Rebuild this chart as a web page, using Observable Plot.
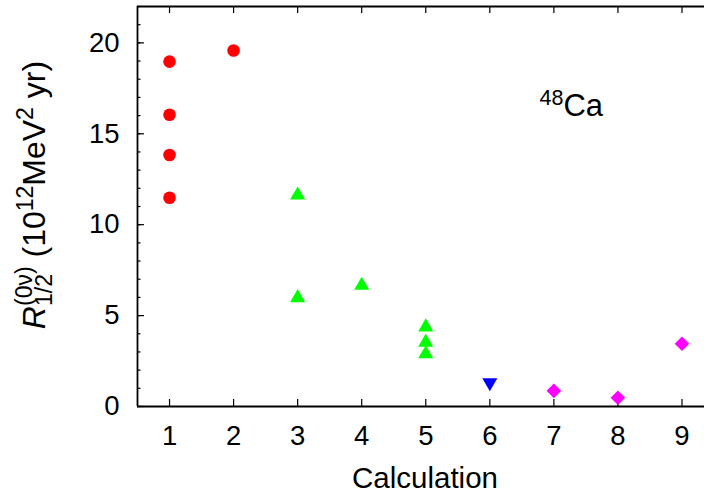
<!DOCTYPE html>
<html><head><meta charset="utf-8">
<script src="https://cdn.jsdelivr.net/npm/d3@7"></script>
<script src="https://cdn.jsdelivr.net/npm/@observablehq/plot@0.6"></script>
<style>
body{margin:0;background:#fff}
#chart svg{display:block}
</style>
</head><body><div id="chart"></div>
<script>
// Data
const circleCalc = [1, 1, 1, 1, 2];
const circleR = [18.97, 16.05, 13.83, 11.48, 19.58];
const triCalc = [3, 3, 4, 5, 5, 5];
const triR = [11.62, 5.98, 6.66, 4.37, 3.53, 2.89];
const invCalc = [6];
const invR = [1.32];
const diaCalc = [7, 8, 9];
const diaR = [0.86, 0.48, 3.45];
const xTicks = [1, 2, 3, 4, 5, 6, 7, 8, 9];
const yMajor = [0, 5, 10, 15, 20];
const yMinor = d3.range(0, 23);

const toRows = (xs, ys) => xs.map((x, i) => ({calc: x, r: ys[i]}));
const circles = toRows(circleCalc, circleR);
const tris = toRows(triCalc, triR);
const invs = toRows(invCalc, invR);
const dias = toRows(diaCalc, diaR);

const triangleDown = {
  draw(context, size) {
    const y = Math.sqrt(size / (Math.sqrt(3) * 3));
    context.moveTo(0, 2 * y);
    context.lineTo(Math.sqrt(3) * y, -y);
    context.lineTo(-Math.sqrt(3) * y, -y);
    context.closePath();
  }
};

const FONT = "'Liberation Sans', Arial, Helvetica, sans-serif";
const W = 704, H = 493, ML = 137, MT = 6, MB = 87, MR = 0;
const frameW = W - ML - MR, frameH = H - MT - MB;
const tk = {stroke: "#000", strokeWidth: 1.2};

const plot = Plot.plot({
  width: W, height: H,
  marginLeft: ML, marginTop: MT, marginBottom: MB, marginRight: MR,
  style: {fontFamily: FONT, background: "#fff", color: "#000", overflow: "visible"},
  x: {domain: [0.5, 9.5], range: [ML, ML + 9 * 64.06]},
  y: {domain: [0, 22]},
  marks: [
    // inward ticks: left edge (minor + major), bottom and top edges
    Plot.tickY(yMinor, {y: d => d, insetRight: frameW - 3.5, ...tk}),
    Plot.tickY(yMajor, {y: d => d, insetRight: frameW - 7, ...tk}),
    Plot.tickX(xTicks, {x: d => d, insetTop: frameH - 7, ...tk}),
    Plot.tickX(xTicks, {x: d => d, insetBottom: frameH - 7, ...tk}),
    // tick labels
    Plot.axisY({ticks: yMajor, tickSize: 0, tickPadding: 18, fontSize: 27.5, label: null, stroke: "none", tickFormat: d3.format("d")}),
    Plot.axisX({ticks: xTicks, tickSize: 0, tickPadding: 19, fontSize: 27.5, label: null, stroke: "none", tickFormat: d3.format("d")}),
    // frame (right side lies outside the picture)
    Plot.ruleY([0, 22], {stroke: "#000", strokeWidth: 1.8}),
    Plot.ruleX([0.5], {stroke: "#000", strokeWidth: 1.8}),
    // data
    Plot.dot(circles, {x: "calc", y: "r", r: 6.3, fill: "#ff0000", symbol: "circle"}),
    Plot.dot(tris, {x: "calc", y: "r", r: 5.6, fill: "#00ff00", symbol: "triangle"}),
    Plot.dot(invs, {x: "calc", y: "r", r: 5.6, fill: "#0000ff", symbol: triangleDown}),
    Plot.dot(dias, {x: "calc", y: "r", r: 6.6, fill: "#ff00ff", symbol: "diamond2"})
  ]
});

document.getElementById("chart").appendChild(plot);

const svg = d3.select(plot);
const xs = plot.scale("x"), ys = plot.scale("y");

// x-axis label
svg.append("text")
  .attr("x", 425).attr("y", 488)
  .attr("text-anchor", "middle")
  .attr("font-family", FONT).attr("font-size", 29.5).attr("fill", "#000")
  .text("Calculation");

// y-axis label with sub/superscripts
const yl = svg.append("text")
  .attr("transform", `translate(45,195) rotate(-90)`)
  .attr("text-anchor", "middle")
  .attr("font-family", FONT).attr("font-size", 32).attr("fill", "#000");
yl.append("tspan").attr("font-style", "italic").text("R");
const sub = yl.append("tspan").attr("font-size", 23).attr("dy", 7).text("1/2");
const subLen = sub.node().getComputedTextLength();
yl.append("tspan").attr("font-size", 23).attr("dx", -subLen).attr("dy", -20).text("(0ν)");
yl.append("tspan").attr("dy", 13).text(" (10");
yl.append("tspan").attr("font-size", 23).attr("dy", -12).text("12");
yl.append("tspan").attr("dy", 12).text("MeV");
yl.append("tspan").attr("font-size", 23).attr("dy", -12).text("2");
yl.append("tspan").attr("dy", 12).text(" yr)");

// 48Ca annotation
const ca = svg.append("text")
  .attr("x", xs.apply(7.28)).attr("y", ys.apply(15.95))
  .attr("font-family", FONT).attr("font-size", 31).attr("fill", "#000");
ca.append("tspan").attr("font-size", 21.5).attr("dy", -11).text("48");
ca.append("tspan").attr("dy", 11).text("Ca");
</script>
</body></html>
